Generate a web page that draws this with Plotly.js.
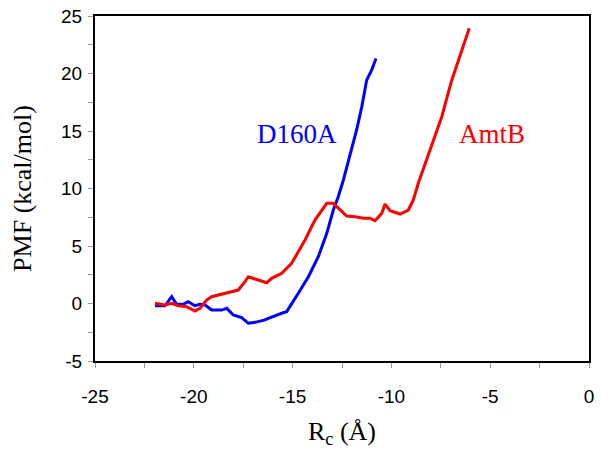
<!DOCTYPE html>
<html>
<head>
<meta charset="utf-8">
<script src="https://cdn.plot.ly/plotly-3.0.1.min.js"></script>
<style>body{margin:0;background:#fff}</style>
</head>
<body>
<div id="chartContainer" style="width:601px;height:459px"></div>
<script>
// D160A mutant PMF profile
var d160aX = [-21.96, -21.46, -21.12, -20.87, -20.53, -20.28, -19.94, -19.69, -19.43, -19.09, -18.59, -18.33,
    -18.0, -17.58, -17.24, -16.9, -16.4, -16.23, -15.55, -15.3, -14.71, -14.2, -13.7, -13.27, -12.94,
    -12.69, -12.43, -12.1, -11.76, -11.5, -11.25, -11.0, -10.78];
var d160aY = [-0.19, -0.2, 0.6, -0.07, -0.07, 0.16, -0.19, -0.07, -0.13, -0.57, -0.57, -0.42,
    -1.0, -1.23, -1.72, -1.64, -1.43, -1.29, -0.85, -0.71, 0.89, 2.33, 4.07, 6.1, 8.13,
    9.29, 10.74, 12.77, 15.09, 17.1, 19.43, 20.3, 21.3];

// wild-type AmtB PMF profile
var amtbX = [-21.96, -21.46, -21.12, -20.78, -20.36, -19.94, -19.69, -19.35, -19.1, -18.59, -18.08, -17.75,
    -17.41, -17.24, -16.9, -16.31, -16.06, -15.55, -15.05, -14.37, -13.87, -13.27, -12.94, -12.6,
    -12.26, -11.84, -11.42, -11.08, -10.83, -10.49, -10.32, -10.07, -9.56, -9.14, -8.89, -8.64,
    -8.05, -7.45, -6.95, -6.61, -6.27, -6.06];
var amtbY = [0.02, -0.13, 0.02, -0.19, -0.28, -0.65, -0.42, 0.3, 0.59, 0.8, 0.97, 1.17,
    1.9, 2.33, 2.13, 1.81, 2.19, 2.63, 3.5, 5.52, 7.26, 8.71, 8.71, 8.13,
    7.6, 7.55, 7.41, 7.41, 7.2, 7.84, 8.65, 8.07, 7.78, 8.13, 9.0, 10.45,
    13.35, 16.24, 19.4, 21.2, 22.9, 23.93];

var seriesNames = ['D160A', 'AmtB'];

// tick labels (plain hyphen minus, as in the original figure)
var xTickVals = [-25, -20, -15, -10, -5, 0];
var xTickText = ['-25', '-20', '-15', '-10', '-5', '0'];
var yTickVals = [-5, 0, 5, 10, 15, 20, 25];
var yTickText = ['-5', '0', '5', '10', '15', '20', '25'];

var traces = [
    {x: d160aX, y: d160aY, type: 'scatter', mode: 'lines', name: seriesNames[0],
        line: {color: '#0000ff', width: 3}},
    {x: amtbX, y: amtbY, type: 'scatter', mode: 'lines', name: seriesNames[1],
        line: {color: '#ff0000', width: 3}}
];

var serif = 'Liberation Serif, Times New Roman';

var axisCommon = {
    showline: true, linecolor: '#000', linewidth: 2, mirror: true,
    showgrid: false, zeroline: false,
    ticks: 'outside', ticklen: 5, tickcolor: '#999', tickwidth: 1,
    tickmode: 'array',
    tickfont: {family: 'Liberation Sans, Arial', size: 19, color: '#000'},
    minor: {dtick: 2.5, ticks: 'outside', ticklen: 5, tickcolor: '#999'}
};

var layout = {
    width: 601, height: 459,
    margin: {l: 95, r: 12, t: 16, b: 98},
    paper_bgcolor: '#fff', plot_bgcolor: '#fff',
    showlegend: false,
    xaxis: Object.assign({}, axisCommon, {
        range: [-25, 0], tickvals: xTickVals, ticktext: xTickText, ticklabelstandoff: 12,
        title: {text: 'R<sub>c</sub> (Å)', standoff: 16,
            font: {family: serif, size: 26, color: '#000'}}
    }),
    yaxis: Object.assign({}, axisCommon, {
        range: [-5, 25], tickvals: yTickVals, ticktext: yTickText, ticklabelstandoff: 2,
        title: {text: 'PMF (kcal/mol)', standoff: 22,
            font: {family: serif, size: 26, color: '#000'}}
    }),
    annotations: [
        {x: -14.8, y: 14.74, xref: 'x', yref: 'y', text: seriesNames[0], showarrow: false,
            font: {family: serif, size: 27, color: '#0000ff'}},
        {x: -4.9, y: 14.74, xref: 'x', yref: 'y', text: seriesNames[1], showarrow: false,
            font: {family: serif, size: 27, color: '#ff0000'}}
    ]
};

Plotly.newPlot('chartContainer', traces, layout, {displayModeBar: false, staticPlot: true});
</script>
</body>
</html>
